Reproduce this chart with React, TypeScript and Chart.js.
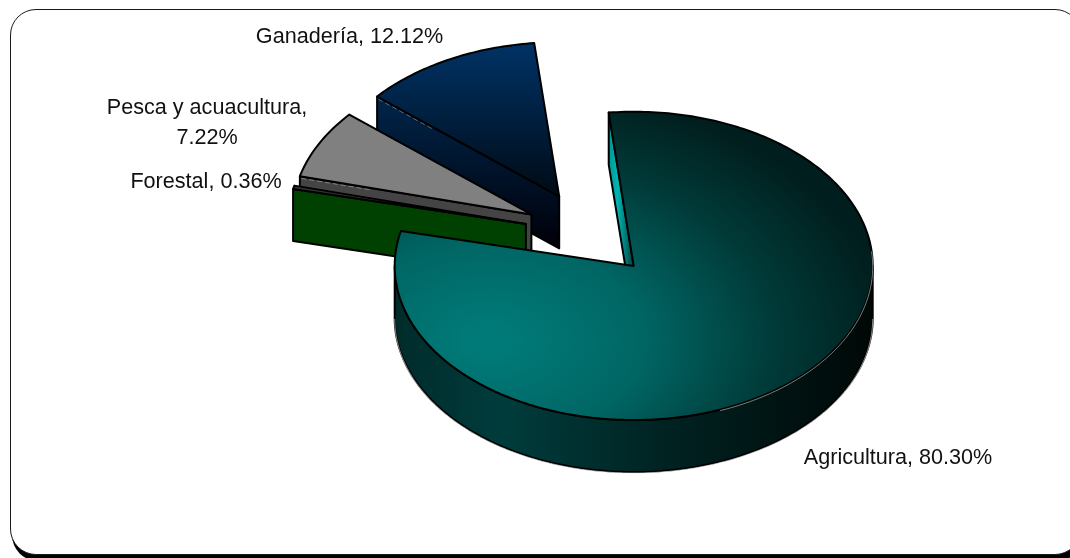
import { useEffect, useRef } from "react";
import { Chart, ArcElement, PieController } from "chart.js";

Chart.register(ArcElement, PieController);

// Shares of the primary sector, in the clockwise order of the slices.
const categories = ["Agricultura", "Forestal", "Pesca y acuacultura", "Ganadería"];
const shares = [80.3, 0.36, 7.22, 12.12];
const tickLabels = [["Agricultura, 80.30%"], ["Forestal, 0.36%"], ["Pesca y acuacultura,", "7.22%"], ["Ganadería, 12.12%"]];
const wallColors = ["#002f2e", "#004000", "#444444", "#001c38"];
const paintOrder = [3, 2, 1, 0];

const WIDTH = 1070;
const HEIGHT = 558;
const RADIUS = 239;
const EXPLODE = 66;
const TILT = 0.645;
const DEPTH = 52;
const CENTER_X = 590;
const CENTER_Y = 234;
const FONT = '21.6px "Liberation Sans", Arial, sans-serif';
const LINE_GAP = 30;

const labelAnchors = [
  { x: 898, y: 464 },
  { x: 206, y: 188 },
  { x: 207, y: 114 },
  { x: 349.5, y: 43 },
];

function wallFill(ctx: CanvasRenderingContext2D, index: number, edge: boolean) {
  if (index === 0 && edge) {
    const g = ctx.createLinearGradient(606, 0, 632, 0);
    g.addColorStop(0, "#008c8a");
    g.addColorStop(0.45, "#00b5b2");
    g.addColorStop(1, "#004a49");
    return g;
  }
  if (index === 0) {
    const g = ctx.createLinearGradient(395, 0, 873, 0);
    g.addColorStop(0, "#002b2b");
    g.addColorStop(0.22, "#003c3c");
    g.addColorStop(0.62, "#001f1e");
    g.addColorStop(1, "#000807");
    return g;
  }
  if (index === 3) {
    const g = ctx.createLinearGradient(0, 97, 0, 248);
    g.addColorStop(0, "#00254a");
    g.addColorStop(1, "#000008");
    return g;
  }
  return wallColors[index];
}

const explodedPie = {
  id: "explodedPie",
  beforeDatasetsDraw(chart: any) {
    const ctx: CanvasRenderingContext2D = chart.ctx;
    const arcs = chart.getDatasetMeta(0).data;

    const shift = (arc: any) => {
      const mid = (arc.startAngle + arc.endAngle) / 2;
      return [Math.cos(mid) * EXPLODE, Math.sin(mid) * EXPLODE];
    };

    // Maps a point of the flat pie to the tilted one, optionally dropped by the disc thickness.
    const project = (arc: any, angle: number, radius: number, drop: number) => {
      const [ex, ey] = shift(arc);
      const ox = ex + Math.cos(angle) * radius;
      const oy = ey + Math.sin(angle) * radius;
      return [CENTER_X + ox, CENTER_Y + oy * TILT + drop];
    };

    const trace = (arc: any, from: number, to: number, drop: number, move: boolean) => {
      const steps = Math.max(2, Math.ceil(Math.abs(to - from) * 60));
      for (let s = 0; s <= steps; s++) {
        const [x, y] = project(arc, from + ((to - from) * s) / steps, arc.outerRadius, drop);
        if (s === 0 && move) ctx.moveTo(x, y);
        else ctx.lineTo(x, y);
      }
    };

    const stroke = (width = 2, color = "#000000") => {
      ctx.lineJoin = "round";
      ctx.lineWidth = width;
      ctx.strokeStyle = color;
      ctx.stroke();
    };

    for (const i of paintOrder) {
      const arc = arcs[i];
      const a = arc.startAngle;
      const b = arc.endAngle;
      const [ex, ey] = shift(arc);

      // Radial wall on the slice's leading edge, when it faces the viewer.
      if (Math.cos(a) < 0) {
        const [x0, y0] = project(arc, a, 0, 0);
        const [x1, y1] = project(arc, a, arc.outerRadius, 0);
        ctx.beginPath();
        ctx.moveTo(x0, y0);
        ctx.lineTo(x1, y1);
        ctx.lineTo(x1, y1 + DEPTH);
        ctx.lineTo(x0, y0 + DEPTH);
        ctx.closePath();
        ctx.fillStyle = wallFill(ctx, i, true);
        ctx.fill();
        stroke();
      }

      // Curved outer wall, only over the front half of the rim.
      for (let k = -1; k <= 1; k++) {
        const lo = Math.max(a, k * 2 * Math.PI);
        const hi = Math.min(b, k * 2 * Math.PI + Math.PI);
        if (hi <= lo) continue;
        ctx.beginPath();
        trace(arc, lo, hi, 0, true);
        trace(arc, hi, lo, DEPTH, false);
        ctx.closePath();
        ctx.fillStyle = wallFill(ctx, i, false);
        ctx.fill();
        stroke();
        ctx.beginPath();
        trace(arc, lo, hi, DEPTH + 1, true);
        stroke(0.7, "rgba(235,235,235,0.85)");
      }

      // Top face, painted by the arc element itself under the tilt transform.
      const toArc = (sx: number, sy: number) => [
        arc.x + sx - CENTER_X - ex,
        arc.y + (sy - CENTER_Y - ey * TILT) / TILT,
      ];
      ctx.save();
      ctx.translate(CENTER_X + ex, CENTER_Y + ey * TILT);
      ctx.scale(1, TILT);
      ctx.translate(-arc.x, -arc.y);
      const opts = arc.options;
      const base = opts.backgroundColor;
      if (i === 0) {
        const [gx, gy] = toArc(490, 340);
        const g = ctx.createRadialGradient(gx, gy, 20, gx, gy, 400);
        g.addColorStop(0, "#007a78");
        g.addColorStop(0.35, "#006664");
        g.addColorStop(0.7, "#003a38");
        g.addColorStop(1, "#001e1d");
        opts.backgroundColor = g;
      } else if (i === 3) {
        const [, top] = toArc(0, 42);
        const [, bottom] = toArc(0, 195);
        const g = ctx.createLinearGradient(0, top, 0, bottom);
        g.addColorStop(0, "#003366");
        g.addColorStop(1, "#000b16");
        opts.backgroundColor = g;
      }
      arc.draw(ctx);
      opts.backgroundColor = base;
      ctx.restore();

      // Outline of the face, kept at an even width outside the tilt transform.
      const [ax, ay] = project(arc, a, 0, 0);
      ctx.beginPath();
      ctx.moveTo(ax, ay);
      trace(arc, a, b, 0, false);
      ctx.closePath();
      stroke();

      // Pale seam on the rim and along the radial edges.
      if (i === 0) {
        ctx.beginPath();
        trace(arc, -0.1, 1.2, 1, true);
        stroke(0.7, "rgba(235,235,235,0.75)");
      } else if (i >= 2) {
        const [x1, y1] = project(arc, a, arc.outerRadius, 0);
        const [mx, my] = [x1 + (ax - x1) * 0.3, y1 + (ay - y1) * 0.3];
        ctx.beginPath();
        ctx.moveTo(mx, my + 2);
        ctx.lineTo(x1, y1 + 2);
        ctx.setLineDash([5, 3]);
        stroke(0.7, "rgba(215,215,215,0.6)");
        ctx.setLineDash([]);
      }
    }
    return false;
  },
  afterDraw(chart: any) {
    const ctx: CanvasRenderingContext2D = chart.ctx;
    ctx.font = FONT;
    ctx.fillStyle = "#111111";
    ctx.textAlign = "center";
    ctx.textBaseline = "alphabetic";
    tickLabels.forEach((lines, i) => {
      lines.forEach((line, n) => {
        ctx.fillText(line, labelAnchors[i].x, labelAnchors[i].y + n * LINE_GAP);
      });
    });
  },
};

export default function App() {
  const ref = useRef<HTMLCanvasElement | null>(null);

  useEffect(() => {
    document.body.style.margin = "0";
    document.body.style.background = "#ffffff";
    const chart = new Chart(ref.current as HTMLCanvasElement, {
      type: "pie",
      data: {
        labels: categories,
        datasets: [{ data: shares, borderWidth: 0, backgroundColor: ["#006664", "#333333", "#808080", "#002244"] }],
      },
      options: {
        responsive: false,
        animation: false,
        rotation: -6,
        radius: RADIUS,
        events: [],
        layout: { padding: 0 },
      },
      plugins: [explodedPie],
    } as any);
    return () => chart.destroy();
  }, []);

  return (
    <div style={{ position: "relative", width: WIDTH, height: HEIGHT, overflow: "hidden", background: "#fff" }}>
      <div
        style={{
          position: "absolute",
          left: 10,
          top: 9,
          width: 1069,
          height: 544,
          border: "1.5px solid #1a1a1a",
          borderRadius: 26,
          boxShadow: "2px 6px 0 #000",
          background: "#fff",
        }}
      />
      <canvas ref={ref} width={WIDTH} height={HEIGHT} style={{ position: "absolute", left: 0, top: 0 }} />
    </div>
  );
}
